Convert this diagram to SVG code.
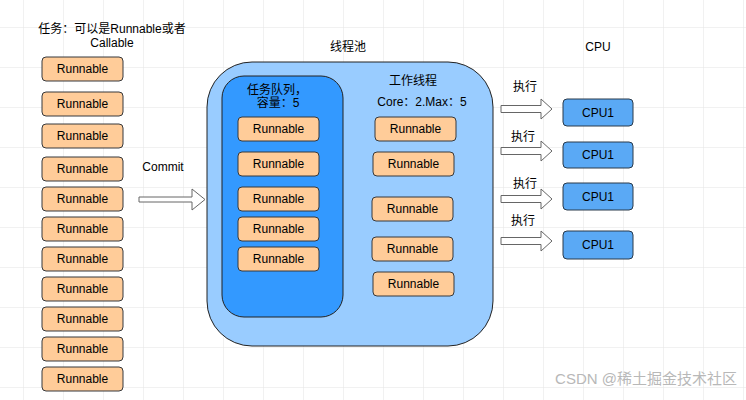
<svg xmlns="http://www.w3.org/2000/svg" width="746" height="400" viewBox="0 0 746 400">
<defs>
<pattern id="grid" x="23" y="27" width="40" height="40" patternUnits="userSpaceOnUse">
<path d="M0 0H40M0 0V40" fill="none" stroke="#e4e4e4" stroke-width="1"/>
</pattern>
</defs>
<style>
text{font-family:"Liberation Sans","Noto Sans CJK SC",sans-serif;font-size:12px;fill:#000;text-anchor:middle;dominant-baseline:central}
.r rect{fill:#FFCC99;stroke:#36393d;stroke-width:1}
.cpu rect{fill:#5AA9F5;stroke:#2a3a4a;stroke-width:1}
.arr{fill:#fff;stroke:#666;stroke-width:1}
</style>
<rect width="746" height="400" fill="#fff"/>
<rect width="746" height="400" fill="url(#grid)"/>
<g id="title">
<text x="112" y="29">任务：可以是Runnable或者</text>
<text x="112" y="43">Callable</text>
</g>
<g id="left-tasks" class="r">
<g id="t1"><rect x="42" y="57" width="81" height="24" rx="4"/><text x="82.5" y="69">Runnable</text></g>
<g id="t2"><rect x="42" y="92" width="81" height="24" rx="4"/><text x="82.5" y="104">Runnable</text></g>
<g id="t3"><rect x="42" y="124" width="81" height="24" rx="4"/><text x="82.5" y="136">Runnable</text></g>
<g id="t4"><rect x="42" y="157" width="81" height="24" rx="4"/><text x="82.5" y="169">Runnable</text></g>
<g id="t5"><rect x="42" y="187" width="81" height="24" rx="4"/><text x="82.5" y="199">Runnable</text></g>
<g id="t6"><rect x="42" y="217" width="81" height="24" rx="4"/><text x="82.5" y="229">Runnable</text></g>
<g id="t7"><rect x="42" y="247" width="81" height="24" rx="4"/><text x="82.5" y="259">Runnable</text></g>
<g id="t8"><rect x="42" y="277" width="81" height="24" rx="4"/><text x="82.5" y="289">Runnable</text></g>
<g id="t9"><rect x="42" y="307" width="81" height="24" rx="4"/><text x="82.5" y="319">Runnable</text></g>
<g id="t10"><rect x="42" y="337" width="81" height="24" rx="4"/><text x="82.5" y="349">Runnable</text></g>
<g id="t11"><rect x="42" y="367" width="81" height="24" rx="4"/><text x="82.5" y="379">Runnable</text></g>
</g>
<g id="pool">
<text x="348" y="47">线程池</text>
<rect x="207" y="62" width="286" height="284" rx="45" fill="#99CCFF" stroke="#222" stroke-width="1"/>
</g>
<g id="queue">
<rect x="222" y="76" width="121" height="241" rx="22" fill="#3399FF" stroke="#222" stroke-width="1"/>
<text x="277" y="90">任务队列，</text>
<text x="278" y="103">容量：5</text>
</g>
<g id="queue-tasks" class="r">
<g id="q1"><rect x="238" y="117" width="81" height="24" rx="4"/><text x="278.5" y="129">Runnable</text></g>
<g id="q2"><rect x="238" y="152" width="81" height="24" rx="4"/><text x="278.5" y="164">Runnable</text></g>
<g id="q3"><rect x="238" y="187" width="81" height="24" rx="4"/><text x="278.5" y="199">Runnable</text></g>
<g id="q4"><rect x="238" y="217" width="81" height="24" rx="4"/><text x="278.5" y="229">Runnable</text></g>
<g id="q5"><rect x="238" y="247" width="81" height="24" rx="4"/><text x="278.5" y="259">Runnable</text></g>
</g>
<g id="workers-label">
<text x="413" y="81">工作线程</text>
<text x="422" y="102">Core：2.Max：5</text>
</g>
<g id="workers" class="r">
<g id="w1"><rect x="375" y="117" width="81" height="24" rx="4"/><text x="415.5" y="129">Runnable</text></g>
<g id="w2"><rect x="373" y="152" width="81" height="24" rx="4"/><text x="413.5" y="164">Runnable</text></g>
<g id="w3"><rect x="372" y="197" width="81" height="24" rx="4"/><text x="412.5" y="209">Runnable</text></g>
<g id="w4"><rect x="372" y="237" width="81" height="24" rx="4"/><text x="412.5" y="249">Runnable</text></g>
<g id="w5"><rect x="373" y="272" width="81" height="24" rx="4"/><text x="413.5" y="284">Runnable</text></g>
</g>
<g id="cpu-label"><text x="598" y="47">CPU</text></g>
<g id="cpus" class="cpu">
<g id="c1"><rect x="563" y="99" width="70" height="27" rx="4"/><text x="598" y="112.5">CPU1</text></g>
<g id="c2"><rect x="563" y="142" width="70" height="26" rx="4"/><text x="598" y="155">CPU1</text></g>
<g id="c3"><rect x="563" y="183" width="70" height="27" rx="4"/><text x="598" y="196.5">CPU1</text></g>
<g id="c4"><rect x="563" y="231" width="70" height="28" rx="4"/><text x="598" y="245">CPU1</text></g>
</g>
<g id="connectors">
<path class="arr" d="M139 197H192V189L205 199.5L192 210V202H139Z"/>
<text x="163" y="167">Commit</text>
<path class="arr" d="M501 105.5H541V99L552 109L541 119V112.5H501Z"/>
<text x="525" y="87">执行</text>
<path class="arr" d="M501 147.5H541V141L552 151L541 161V154.5H501Z"/>
<text x="523" y="137">执行</text>
<path class="arr" d="M501 195.5H541V189L552 199L541 209V202.5H501Z"/>
<text x="525" y="184">执行</text>
<path class="arr" d="M501 237.5H541V231L552 241L541 251V244.5H501Z"/>
<text x="523" y="221">执行</text>
</g>
<g id="watermark"><text x="646" y="378" style="font-size:15px;fill:#b8b8b8">CSDN @稀土掘金技术社区</text></g>
</svg>
